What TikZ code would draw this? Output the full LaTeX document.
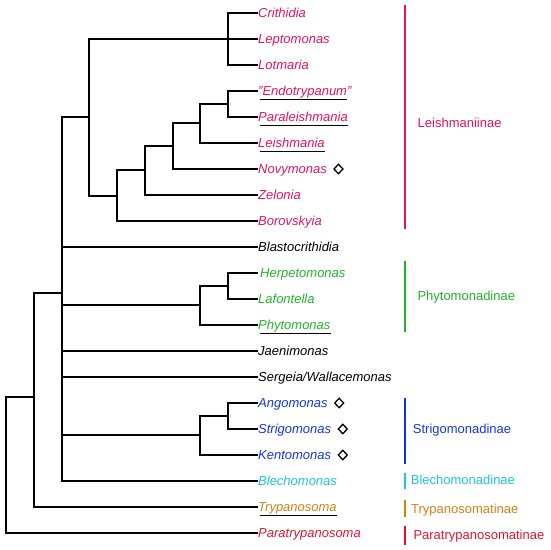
\documentclass[tikz,border=0pt]{standalone}
\usepackage{fontspec}
\setmainfont{Liberation Sans}
\usetikzlibrary{shapes.geometric,positioning}
\definecolor{cpink}{RGB}{228,18,96}
\definecolor{cgreen}{RGB}{34,178,40}
\definecolor{cblue}{RGB}{22,52,228}
\definecolor{ccyan}{RGB}{30,196,216}
\definecolor{corange}{RGB}{208,130,22}
\definecolor{cred}{RGB}{228,20,48}
\begin{document}
\begin{tikzpicture}[x=1pt,y=-1pt,
  branch/.style={line width=2pt,line join=miter,line cap=rect},
  leaf/.style={anchor=west,inner xsep=1pt,inner ysep=0pt,text height=9.3pt,text depth=0pt,font=\fontsize{13}{15}\selectfont\itshape},
  clade/.style={anchor=west,inner sep=0pt,text height=9.3pt,text depth=0pt,font=\fontsize{13}{15}\selectfont},
  bar/.style={line width=2pt},
  uline/.style={line width=1.4pt},
  dia/.style={diamond,draw,line width=1.3pt,inner sep=0pt,minimum width=9.5pt,minimum height=10pt}]
\useasboundingbox (0,0) rectangle (550,550);
% leaves
\def\lx{257}
\node[leaf,text=cpink] (l0) at (\lx,13) {Crithidia};
\node[leaf,text=cpink] (l1) at (\lx,39) {Leptomonas};
\node[leaf,text=cpink] (l2) at (\lx,65) {Lotmaria};
\node[leaf,text=cpink] (l3) at (\lx,91) {"Endotrypanum"};
\node[leaf,text=cpink] (l4) at (\lx,117) {Paraleishmania};
\node[leaf,text=cpink] (l5) at (\lx,143) {Leishmania};
\node[leaf,text=cpink] (l6) at (\lx,169) {Novymonas};
\node[leaf,text=cpink] (l7) at (\lx,195) {Zelonia};
\node[leaf,text=cpink] (l8) at (\lx,221) {Borovskyia};
\node[leaf,text=black] (l9) at (\lx,247) {Blastocrithidia};
\node[leaf,text=cgreen,inner xsep=3pt] (l10) at (\lx,273) {Herpetomonas};
\node[leaf,text=cgreen] (l11) at (\lx,299) {Lafontella};
\node[leaf,text=cgreen] (l12) at (\lx,325) {Phytomonas};
\node[leaf,text=black] (l13) at (\lx,351) {Jaenimonas};
\node[leaf,text=black] (l14) at (\lx,377) {Sergeia/Wallacemonas};
\node[leaf,text=cblue] (l15) at (\lx,403) {Angomonas};
\node[leaf,text=cblue] (l16) at (\lx,429) {Strigomonas};
\node[leaf,text=cblue] (l17) at (\lx,455) {Kentomonas};
\node[leaf,text=ccyan] (l18) at (\lx,481) {Blechomonas};
\node[leaf,text=corange] (l19) at (\lx,507) {Trypanosoma};
\node[leaf,text=cred] (l20) at (\lx,533) {Paratrypanosoma};
% internal nodes
\coordinate (cA) at (228,39);
\coordinate (cE) at (228,104);
\coordinate (c2) at (200,123);
\coordinate (c3) at (173,146);
\coordinate (c4) at (145,170);
\coordinate (c5) at (117,196);
\coordinate (cLei) at (89,117);
\coordinate (cHL) at (228,286);
\coordinate (cPhy) at (200,305);
\coordinate (cAS) at (228,416);
\coordinate (cStr) at (200,435);
\coordinate (cMain) at (62,293);
\coordinate (cT) at (34,397);
\coordinate (root) at (6,465);
% branches
\foreach \p/\c in {cA/l0.west,cA/l1.west,cA/l2.west,
  cE/l3.west,cE/l4.west,c2/cE,c2/l5.west,c3/c2,c3/l6.west,c4/c3,c4/l7.west,c5/c4,c5/l8.west,
  cLei/cA,cLei/c5,
  cHL/l10.west,cHL/l11.west,cPhy/cHL,cPhy/l12.west,
  cAS/l15.west,cAS/l16.west,cStr/cAS,cStr/l17.west,
  cMain/cLei,cMain/l9.west,cMain/cPhy,cMain/l13.west,cMain/l14.west,cMain/cStr,cMain/l18.west,
  cT/cMain,cT/l19.west,root/cT,root/l20.west}
  \draw[branch] (\p) |- (\c);
% underlines
\foreach \n/\e in {l3/6,l4/1,l5/1,l12/1,l19/1}
  \draw[uline] ([xshift=3pt,yshift=-3.9pt]\n.base west) -- ([xshift=-\e pt,yshift=-3.9pt]\n.base east);
% diamonds
\node[dia,right=5pt of l6] (d6) {};
\node[dia,right=5pt of l15] (d15) {};
\node[dia,right=5pt of l16] (d16) {};
\node[dia,right=5pt of l17] (d17) {};
% clade bars and labels
\draw[bar,cpink] (405,5) -- (405,229);
\node[clade,text=cpink] (k1) at (417.5,123.3) {Leishmaniinae};
\draw[bar,cgreen] (405,261) -- (405,332);
\node[clade,text=cgreen] (k2) at (417.3,296) {Phytomonadinae};
\draw[bar,cblue] (405,398) -- (405,464);
\node[clade,text=cblue] (k3) at (412.7,429.3) {Strigomonadinae};
\draw[bar,ccyan] (405,473) -- (405,489);
\node[clade,text=ccyan] (k4) at (410.7,480.3) {Blechomonadinae};
\draw[bar,corange] (405,500) -- (405,517);
\node[clade,text=corange] (k5) at (411,508.7) {Trypanosomatinae};
\draw[bar,cred] (405,526) -- (405,545);
\node[clade,text=cred] (k6) at (413.3,535) {Paratrypanosomatinae};
\end{tikzpicture}
\end{document}
